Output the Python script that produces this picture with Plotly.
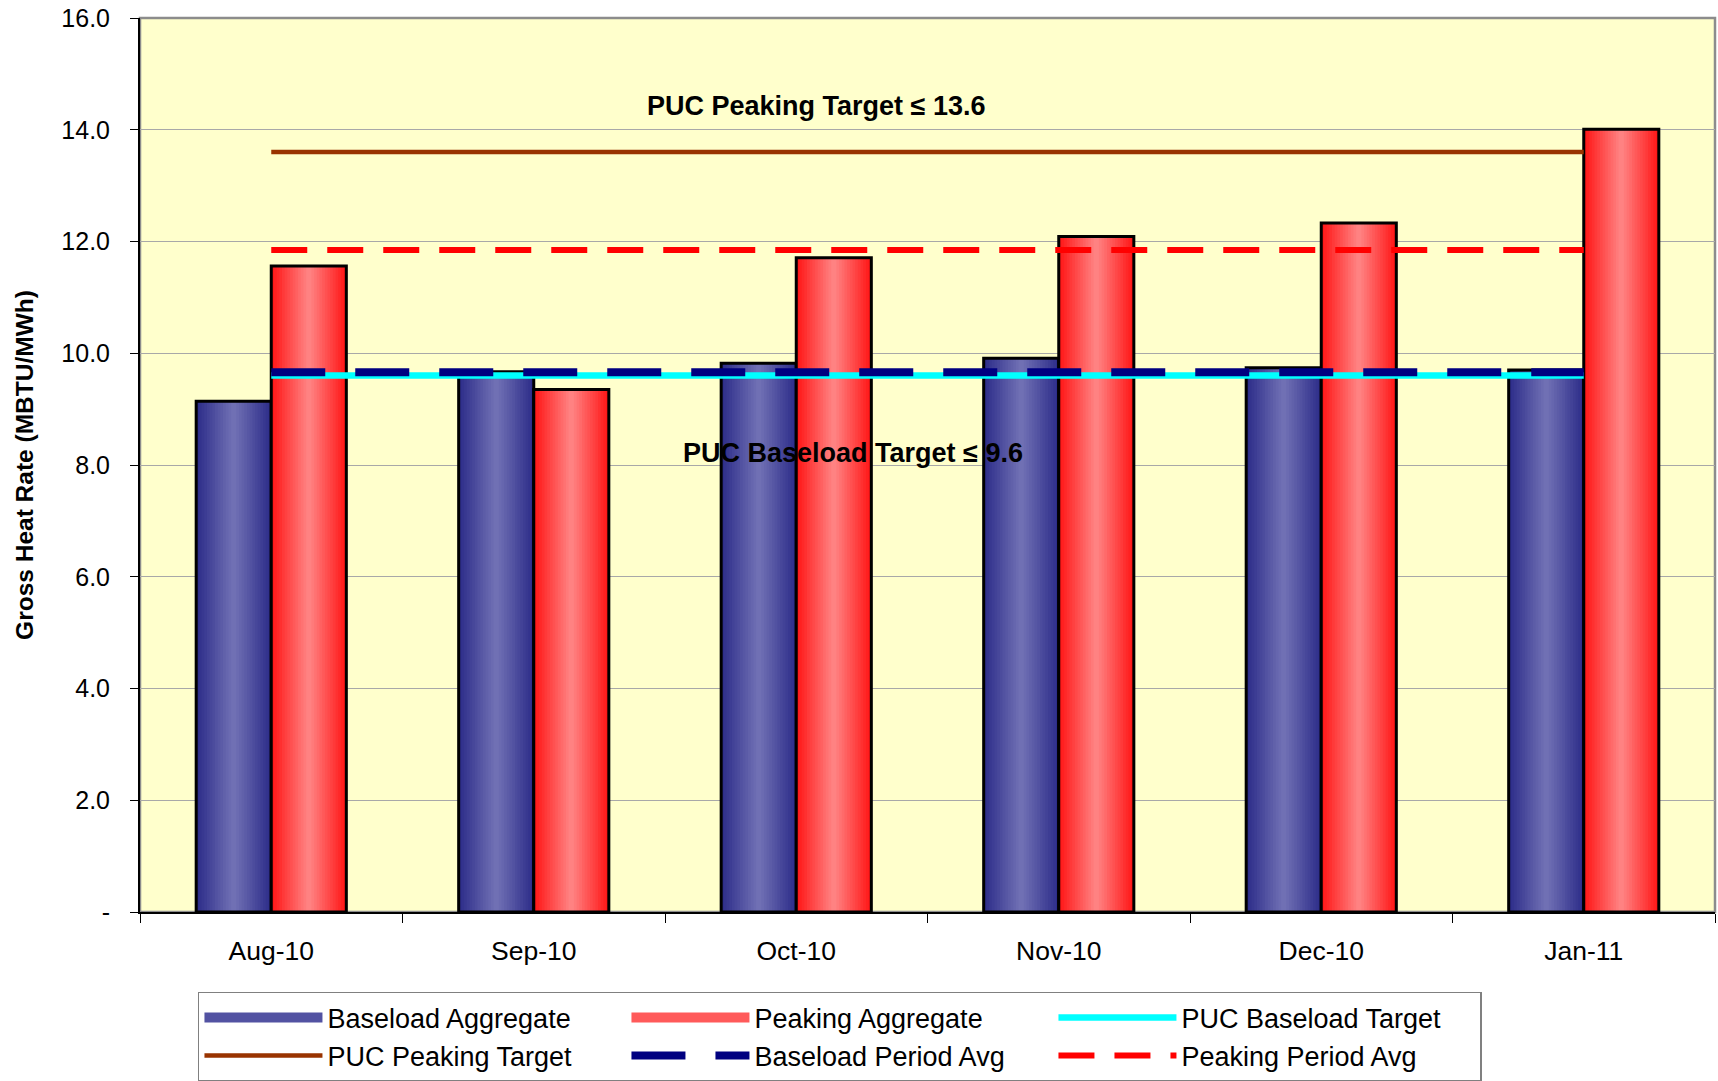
import plotly.graph_objects as go

# ---------------- data ----------------
months = ["Aug-10", "Sep-10", "Oct-10", "Nov-10", "Dec-10", "Jan-11"]
baseload_aggregate = [9.14, 9.67, 9.82, 9.91, 9.74, 9.70]
peaking_aggregate = [11.56, 9.35, 11.71, 12.09, 12.33, 14.01]
puc_baseload_target = [9.6, 9.6, 9.6, 9.6, 9.6, 9.6]
puc_peaking_target = [13.6, 13.6, 13.6, 13.6, 13.6, 13.6]
baseload_period_avg = [9.66, 9.66, 9.66, 9.66, 9.66, 9.66]
peaking_period_avg = [11.85, 11.85, 11.85, 11.85, 11.85, 11.85]
y_tick_vals = [0, 2, 4, 6, 8, 10, 12, 14, 16]
y_tick_text = ["-", "2.0", "4.0", "6.0", "8.0", "10.0", "12.0", "14.0", "16.0"]

FONT = "Liberation Sans, Arial, sans-serif"


def lerp(c1, c2, t):
    return "rgb(%d,%d,%d)" % tuple(round(a + (b - a) * t) for a, b in zip(c1, c2))


fig = go.Figure()

BAR_W = 0.286


def add_gradient_bars(values, center, edge, mid, name, n=14):
    for k in range(n):
        t = k / (n - 1)
        w = BAR_W * (1 - k / n)
        fig.add_trace(go.Bar(
            x=months, y=values, width=w, offset=center - w / 2,
            marker=dict(color=lerp(edge, mid, t), line=dict(width=0)),
            showlegend=False, hoverinfo="skip"))
    # outline on top
    fig.add_trace(go.Bar(
        x=months, y=values, width=BAR_W, offset=center - BAR_W / 2,
        marker=dict(color="rgba(0,0,0,0)", line=dict(color="black", width=3)),
        showlegend=False, hovertemplate=name + " %{x}: %{y:.2f}<extra></extra>"))


add_gradient_bars(baseload_aggregate, -BAR_W / 2, (46, 46, 138), (112, 112, 180),
                  "Baseload Aggregate")
add_gradient_bars(peaking_aggregate, BAR_W / 2, (255, 24, 24), (255, 130, 130),
                  "Peaking Aggregate")

# legend proxies for the bar series
fig.add_trace(go.Scatter(x=[months[0]], y=[None], mode="lines",
                         line=dict(color="#5252A2", width=18),
                         name="Baseload Aggregate", legendrank=1))
fig.add_trace(go.Scatter(x=[months[0]], y=[None], mode="lines",
                         line=dict(color="#FF5A5A", width=18),
                         name="Peaking Aggregate", legendrank=2))

fig.add_trace(go.Scatter(x=months, y=puc_peaking_target, mode="lines",
                         line=dict(color="#993300", width=4.5),
                         name="PUC Peaking Target", legendrank=4))
fig.add_trace(go.Scatter(x=months, y=puc_baseload_target, mode="lines",
                         line=dict(color="#00FFFF", width=6.5),
                         name="PUC Baseload Target", legendrank=3))
fig.add_trace(go.Scatter(x=months, y=baseload_period_avg, mode="lines",
                         line=dict(color="#000080", width=8, dash="54px,30px"),
                         name="Baseload Period Avg", legendrank=5))
fig.add_trace(go.Scatter(x=months, y=peaking_period_avg, mode="lines",
                         line=dict(color="#FF0000", width=6, dash="36px,20px"),
                         name="Peaking Period Avg", legendrank=6))

fig.update_layout(
    width=1718, height=1081,
    margin=dict(l=140, r=3, t=17.5, b=169, autoexpand=False),
    paper_bgcolor="white", plot_bgcolor="#FFFFCC",
    barmode="overlay",
    font=dict(family=FONT, color="black", size=25),
    showlegend=True,
    legend=dict(orientation="h", x=0.0368, y=-0.0893, xanchor="left", yanchor="top",
                bgcolor="white", bordercolor="#808080", borderwidth=1.5,
                entrywidth=294, entrywidthmode="pixels", itemwidth=118,
                font=dict(family=FONT, size=27, color="black"),
                traceorder="normal"),
    xaxis=dict(type="category", range=[-0.5, 5.5], showline=True, linecolor="black",
               linewidth=2, ticks="outside", tickson="boundaries", ticklen=9,
               tickcolor="black", tickwidth=1, showgrid=False,
               tickfont=dict(family=FONT, size=26.5), ticklabelstandoff=14),
    yaxis=dict(range=[0, 16], tickvals=y_tick_vals, ticktext=y_tick_text,
               showgrid=True, gridcolor="#A8A8A8", gridwidth=1,
               showline=True, linecolor="black", linewidth=2, ticks="outside",
               ticklen=8, tickcolor="black", tickfont=dict(family=FONT, size=25),
               ticklabelstandoff=15, zeroline=False, ticklabeloverflow="allow"),
    shapes=[dict(type="rect", xref="paper", yref="paper", x0=0, x1=1, y0=0, y1=1,
                 line=dict(color="#8C8C8C", width=2.5), layer="below")],
    annotations=[
        dict(text="<b>PUC Peaking Target ≤ 13.6</b>", xref="paper", yref="paper",
             x=0.429, y=0.902, showarrow=False, xanchor="center", yanchor="middle",
             font=dict(family=FONT, size=27, color="black")),
        dict(text="<b>PUC Baseload Target ≤ 9.6</b>", xref="paper", yref="paper",
             x=0.4527, y=0.5137, showarrow=False, xanchor="center", yanchor="middle",
             font=dict(family=FONT, size=27, color="black")),
        dict(text="<b>Gross Heat Rate (MBTU/MWh)</b>", xref="paper", yref="paper",
             x=-0.0737, y=0.5, showarrow=False, xanchor="center", yanchor="middle",
             textangle=-90, font=dict(family=FONT, size=24.5, color="black")),
    ],
)

fig.write_html("out.html",
               config={"displayModeBar": False},
               post_script="document.body.style.margin='0';"
                           "document.body.style.overflow='hidden';")
